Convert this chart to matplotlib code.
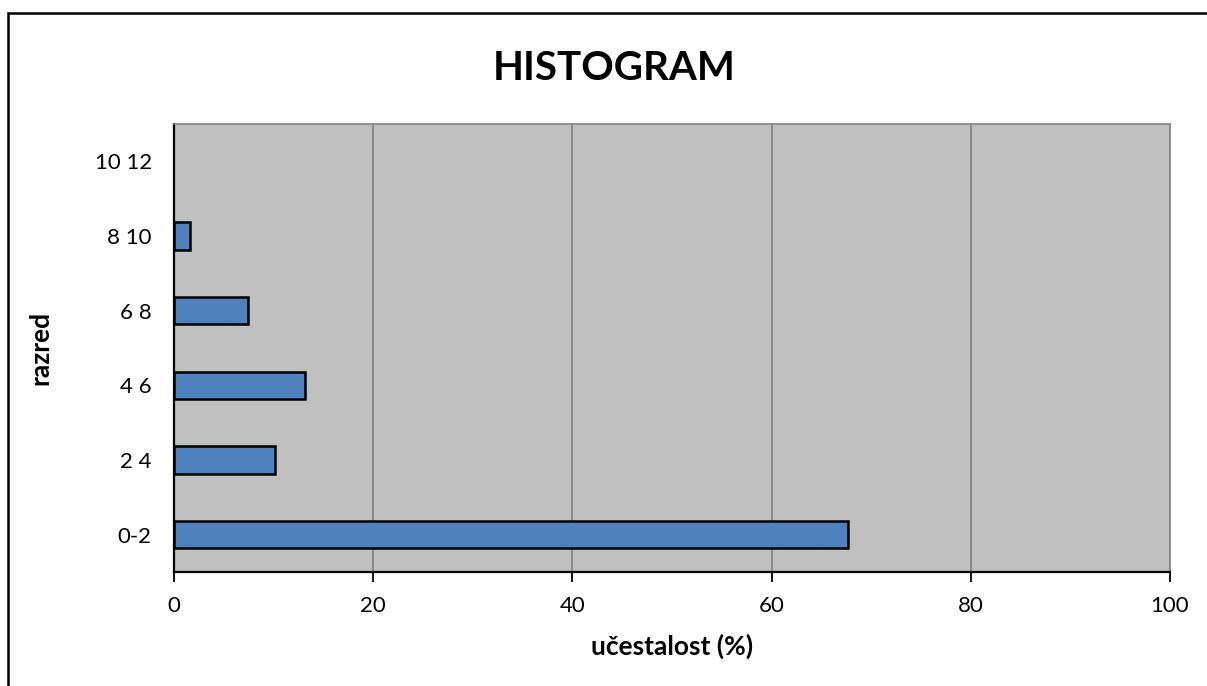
import matplotlib
matplotlib.use("Agg")
import matplotlib.pyplot as plt
from matplotlib.patches import Rectangle

categories = ["0-2", "2 4", "4 6", "6 8", "8 10", "10 12"]
values = [67.7, 10.1, 13.2, 7.4, 1.6, 0.0]
xticks = [0, 20, 40, 60, 80, 100]

plt.rcParams['font.family'] = ['Lato', 'DejaVu Sans']

W, H = 1207, 686
fig = plt.figure(figsize=(W/100, H/100), dpi=100)
fig.patch.set_facecolor('white')

# outer frame
fig.add_artist(Rectangle((8/W, -0.1), 1.2, (H-13)/H + 0.1, transform=fig.transFigure,
                         fill=False, edgecolor='black', linewidth=1.8))

L, R, T, B = 174, 1170, 124, 572
ax = fig.add_axes([L/W, 1 - B/H, (R-L)/W, (B-T)/H])
ax.set_facecolor('#C0C0C0')

y = list(range(len(categories)))
lws = [1.8 if v > 0 else 0 for v in values]
ax.barh(y, values, height=0.37, color='#4F81BD', edgecolor='black', linewidth=lws, zorder=3)

ax.set_xlim(0, 100)
ax.set_ylim(-0.5, len(categories) - 0.5)
ax.set_xticks(xticks)
ax.set_xticklabels([str(v) for v in xticks], fontsize=16)
ax.set_yticks(y)
ax.set_yticklabels(categories, fontsize=16)
ax.tick_params(axis='y', length=0, pad=16)
ax.tick_params(axis='x', length=7, width=1.3, direction='out', pad=10)
ax.grid(axis='x', color='#808080', linewidth=1.2, zorder=1)

for s in ['top', 'right']:
    ax.spines[s].set_color('#808080')
    ax.spines[s].set_linewidth(1.2)
for s in ['left', 'bottom']:
    ax.spines[s].set_color('black')
    ax.spines[s].set_linewidth(1.6)

ax.set_xlabel('učestalost (%)', fontsize=19, fontweight='bold')
ax.set_ylabel('razred', fontsize=19, fontweight='bold')
ax.xaxis.set_label_coords((672 - L) / (R - L), -(646 - B) / (B - T))
ax.yaxis.set_label_coords(-(L - 40) / (R - L), 0.5)
ax.xaxis.label.set_va('center')
ax.yaxis.label.set_va('center')

fig.text(614/W, 1 - 68/H, 'HISTOGRAM', ha='center', va='center',
         fontsize=29, fontweight='bold')

fig.savefig('out.png', dpi=100)
